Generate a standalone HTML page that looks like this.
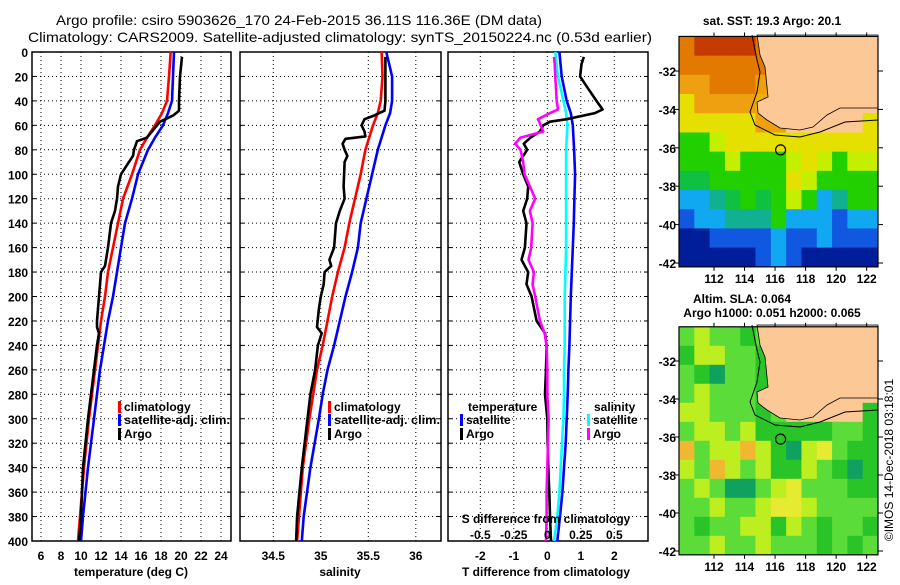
<!DOCTYPE html>
<html><head><meta charset="utf-8"><style>
body{margin:0;background:#fff;}
svg text{font-family:"Liberation Sans",sans-serif;font-weight:bold;fill:#000;}
</style></head><body>
<svg id="c" width="900" height="580" xmlns="http://www.w3.org/2000/svg">
<text x="56" y="25" font-size="14" textLength="486" lengthAdjust="spacingAndGlyphs" style="font-weight:normal">Argo profile: csiro 5903626_170 24-Feb-2015 36.11S 116.36E (DM data)</text>
<text x="28" y="42" font-size="14" textLength="624" lengthAdjust="spacingAndGlyphs" style="font-weight:normal">Climatology: CARS2009. Satellite-adjusted climatology: synTS_20150224.nc (0.53d earlier)</text>
<g id="p"></g>
</svg>
<script>
// ---- data ----
const depths=[0,20,40,50,60,70,80,100,120,140,160,180,200,220,240,260,280,300,340,380,400];
const tClim=[18.97,18.8,18.6,18.1,17.4,16.6,15.9,15.1,14.2,13.7,13.2,12.7,12.4,12.0,11.7,11.4,11.1,10.8,10.3,9.9,9.7];
const tSat=[19.3,19.2,19.1,18.7,18.2,17.4,16.7,15.7,15.1,14.4,14.0,13.6,13.2,12.7,12.3,11.9,11.6,11.3,10.7,10.2,10.0];
const argoDepths=[4,20,40,48,52,57,62,70,73,80,85,95,100,110,120,130,140,160,175,180,200,220,225,230,240,260,280,300,340,380,400];
const tArgo=[20.1,19.9,19.8,19.8,19.2,17.9,17.4,16.6,15.6,15.3,15.2,14.4,14.0,13.7,13.6,13.4,13.0,12.7,12.4,12.0,11.8,11.6,11.6,11.8,11.6,11.3,11.0,10.7,10.2,10.0,9.8];
const sClim=[35.64,35.65,35.63,35.60,35.55,35.51,35.47,35.42,35.36,35.30,35.25,35.18,35.12,35.07,35.02,34.96,34.92,34.88,34.81,34.77,34.75];
const sSat=[35.69,35.75,35.75,35.73,35.68,35.64,35.60,35.54,35.48,35.42,35.39,35.33,35.26,35.20,35.14,35.07,35.02,34.98,34.89,34.82,34.80];
const sArgoDepths=[4,20,40,48,52,55,60,65,69,71,75,80,85,90,110,120,130,140,160,170,175,180,190,200,210,225,230,240,260,280,300,340,380,400];
const sArgo=[35.68,35.68,35.68,35.67,35.56,35.46,35.43,35.46,35.47,35.26,35.23,35.25,35.28,35.25,35.24,35.25,35.20,35.16,35.14,35.09,35.11,35.04,35.03,35.00,34.98,34.96,35.01,34.97,34.94,34.89,34.86,34.80,34.75,34.74];
const dDepths=[0,20,40,50,60,80,100,120,140,160,180,200,220,240,260,280,300,320,340,360,380,400];
const dtSat=[0.36,0.43,0.58,0.70,0.76,0.80,0.83,0.81,0.79,0.76,0.73,0.70,0.68,0.66,0.63,0.61,0.58,0.55,0.50,0.45,0.38,0.30];
const dsSat=[0.06,0.08,0.12,0.14,0.15,0.14,0.14,0.14,0.14,0.14,0.135,0.13,0.13,0.13,0.125,0.125,0.12,0.11,0.10,0.09,0.075,0.05];
const daDepths=[4,10,20,30,40,47,50,55,57,60,65,70,75,80,90,100,110,120,130,140,160,170,180,190,200,220,230,240,260,280,300,320,340,360,380,400];
const dtArgo=[1.09,1.02,0.98,1.22,1.47,1.65,1.42,0.58,0.08,-0.12,-0.22,-0.5,-0.7,-0.6,-0.84,-0.72,-0.57,-0.6,-0.72,-0.62,-0.67,-0.77,-0.57,-0.62,-0.47,-0.32,-0.07,-0.02,-0.04,-0.07,0,0.01,0.03,0.06,0.08,0.11];
const dsArgo=[0.05,0.055,0.06,0.065,0.07,0.08,0.02,-0.07,-0.06,-0.05,-0.03,-0.2,-0.24,-0.2,-0.18,-0.17,-0.13,-0.09,-0.13,-0.11,-0.12,-0.14,-0.1,-0.11,-0.09,-0.055,-0.02,-0.005,0,0,0.01,0.005,0,-0.005,-0.005,-0.01];
const tTicks=[6,8,10,12,14,16,18,20,22,24];
const sTicks=[34.5,35,35.5,36];
const dtTicks=[-2,-1,0,1,2];
const dsTicks=[-0.5,-0.25,0,0.25,0.5];
const depthTicks=[0,20,40,60,80,100,120,140,160,180,200,220,240,260,280,300,320,340,360,380,400];
// SST map grid (lat rows -30.2 -> -42.3, lon cols 110.3 -> 123)
const sstRows=["ORRRROLLLLLLL","OOOOOOLLLLLLL","ooOOOoLLLLLLL","YooooöLLLLLLL","YYYYYooLLLLLY","GGyYYYYYYYYYY","GGGyGGGyYyGyy","ggGGGGGYyGGGG","CCTgGgGyGCTGG","BCCTTTGCCCBCC","DDBBBBCBBCBBB","DDDDDBCBDDDDD"];
const slaRows=["gyggGgLLLLLLL","GyyggGLLLLLLL","gGTggGLLLLLLL","gygggGLLLLLLL","yygggGgLLLLLG","gyygyGGGGGggG","OgyyOyGTyYgGG","ygOygyGGygGTG","gygTTgyYgggGG","ggyggyYYyggggg","gGggyyGygGggG","ggyggygggGgGg"];
const mapTicksLat=[-32,-34,-36,-38,-40,-42];
const mapTicksLon=[112,114,116,118,120,122];

const NS="http://www.w3.org/2000/svg";
const root=document.getElementById('p');
function mk(tag,at,parent){const e=document.createElementNS(NS,tag);for(const k in at)e.setAttribute(k,at[k]);(parent||root).appendChild(e);return e;}
function txt(x,y,s,size,anchor,name){const t=mk('text',{x:x,y:y,'font-size':size,'text-anchor':anchor||'middle'});t.textContent=s;


return t;}
const Y0=52,Y1=541;
const yD=d=>Y0+d*(Y1-Y0)/400;

function panel(x0,x1,xs,ticks,name){
  const g=mk('g',{});
  
  
  depthTicks.forEach(d=>{if(d>0&&d<400)mk('line',{x1:x0,x2:x1,y1:yD(d),y2:yD(d),stroke:'#000','stroke-dasharray':'1,3','stroke-width':1},g);
    mk('line',{x1:x0,x2:x0+4,y1:yD(d),y2:yD(d),stroke:'#000'},g);mk('line',{x1:x1-4,x2:x1,y1:yD(d),y2:yD(d),stroke:'#000'},g);});
  ticks.forEach(v=>{const x=xs(v);mk('line',{x1:x,x2:x,y1:Y0,y2:Y1,stroke:'#000','stroke-dasharray':'1,3'},g);});
  mk('rect',{x:x0,y:Y0,width:x1-x0,height:Y1-Y0,fill:'none',stroke:'#000','stroke-width':1.5},g);
  return g;
}
function line(g,xs,vals,ds,color,name){
  const pts=vals.map((v,i)=>xs(v).toFixed(1)+','+yD(ds[i]).toFixed(1)).join(' ');
  const p=mk('polyline',{points:pts,fill:'none',stroke:color,'stroke-width':2.6,'stroke-linejoin':'round'},g);
  
  
}
depthTicks.forEach(d=>txt(28,yD(d)+5,String(d),12,'end','depth-tick-label'));

const xT=v=>41+(v-6)*10;
const g1=panel(32,231,xT,tTicks,'temperature-panel');
line(g1,xT,tClim,depths,'#f00','temp-climatology-line');
line(g1,xT,tSat,depths,'#00f','temp-satellite-line');
line(g1,xT,tArgo,argoDepths,'#000','temp-argo-line');
tTicks.forEach(v=>txt(xT(v),560,String(v),12,'middle','temp-tick-label'));
txt(131,576,'temperature (deg C)',12,'middle','temp-axis-title');

const xS=v=>273.3+(v-34.5)*95;
const g2=panel(240,441,xS,sTicks,'salinity-panel');
line(g2,xS,sClim,depths,'#f00','sal-climatology-line');
line(g2,xS,sSat,depths,'#00f','sal-satellite-line');
line(g2,xS,sArgo,sArgoDepths,'#000','sal-argo-line');
sTicks.forEach(v=>txt(xS(v),560,String(v),12,'middle','sal-tick-label'));
txt(340,576,'salinity',12,'middle','salinity-axis-title');

const xDT=v=>547.3+v*33.5;
const xDS=v=>547.3+v*134;
const g3=panel(448,648,xDT,dtTicks,'difference-panel');
line(g3,xDT,dtSat,dDepths,'#00f','tdiff-satellite-line');
line(g3,xDS,dsSat,dDepths,'#0ff','sdiff-satellite-line');
line(g3,xDT,dtArgo,daDepths,'#000','tdiff-argo-line');
line(g3,xDS,dsArgo,daDepths,'#f0f','sdiff-argo-line');
dtTicks.forEach(v=>txt(xDT(v),560,String(v),12,'middle','tdiff-tick-label'));
dsTicks.forEach(v=>txt(xDS(v),539,String(v),12,'middle','sdiff-tick-label'));
txt(546,523,'S difference from climatology',12,'middle','sdiff-axis-title');
txt(546,576,'T difference from climatology',12,'middle','tdiff-axis-title');

function leg(x,y,color,label,name,len){const g=mk('g',{});
 
 
 mk('rect',{x:x,y:y-10,width:3,height:12,fill:color},g);const t=txt(x+6,y,label,12,'start','legend-label');
 if(len){t.setAttribute('textLength',len);t.setAttribute('lengthAdjust','spacingAndGlyphs');}
 g.appendChild(t);}
leg(118,411,'#f00','climatology','legend-climatology');
leg(118,424,'#00f','satellite-adj. clim.','legend-satellite',106);
leg(118,438,'#000','Argo','legend-argo');
leg(328,411,'#f00','climatology','legend-climatology-2');
leg(328,424,'#00f','satellite-adj. clim.','legend-satellite-2',106);
leg(328,438,'#000','Argo','legend-argo-2');
txt(468,411,'temperature',12,'start','legend-temperature-header');
leg(460,424,'#00f','satellite','legend-t-satellite');
leg(460,438,'#000','Argo','legend-t-argo');
txt(594,411,'salinity',12,'start','legend-salinity-header');
leg(587,424,'#0ff','satellite','legend-s-satellite');
leg(587,438,'#f0f','Argo','legend-s-argo');

const sstCol={R:'#c43a00',O:'#e27a00',o:'#eea010','ö':'#f0b000',Y:'#e6e000',y:'#c4f000',G:'#22d000',g:'#10c040',T:'#10b090',C:'#10a8f0',B:'#1058e0',D:'#001e9a',L:'#fbc896'};
const slaCol={G:'#28c428',g:'#5cdc38',y:'#bcee20',Y:'#e6ea30',O:'#f0b830',T:'#10a060',L:'#fbc896'};
function map(top,bot,rows,cols,name){
  const g=mk('g',{});
  
  
  const x0=679,x1=878;
  const lonX=l=>714+(l-112)*15.27;
  const latY=l=>top+(-32-l)*(bot-top)/10;
  const boxTop=latY(-30.2), boxBot=latY(-42.2);
  const cw=(x1-x0)/13, ch=(boxBot-boxTop)/12;
  rows.forEach((r,i)=>{for(let j=0;j<13;j++){const c=r[j]||'g';mk('rect',{x:x0+j*cw,y:boxTop+i*ch,width:cw+0.5,height:ch+0.5,fill:cols[c]},g);}});
  const dy=latY(-32)-71;
  const land=[[757,35],[760,55],[765,67],[768,97],[757,102],[758,113],[767,120],[780,128],[800,130],[813,127],[827,115],[840,108],[878,108],[878,35]];
  mk('polygon',{points:land.map(p=>p[0]+','+(p[1]+dy)).join(' '),fill:'#fbc896',stroke:'#000','stroke-width':0.8},g);
  const shelf=[[752,35],[757,60],[760,72],[757,92],[750,112],[755,125],[775,135],[800,137],[820,132],[845,122],[878,120]];
  mk('polyline',{points:shelf.map(p=>p[0]+','+(p[1]+dy)).join(' '),fill:'none',stroke:'#000','stroke-width':1},g);
  mk('circle',{cx:lonX(116.36),cy:latY(-36.11),r:5,fill:'none',stroke:'#000','stroke-width':1.2},g);
  mk('rect',{x:x0,y:boxTop,width:x1-x0,height:boxBot-boxTop,fill:'none',stroke:'#000','stroke-width':1.2},g);
  mapTicksLat.forEach(l=>{const y=latY(l);mk('line',{x1:x0-5,x2:x0,y1:y,y2:y,stroke:'#000'},g);mk('line',{x1:x1,x2:x1+5,y1:y,y2:y,stroke:'#000'},g);g.appendChild(txt(676,y+5,String(l),12,'end','map-lat-label'));});
  mapTicksLon.forEach(l=>{const x=lonX(l);mk('line',{x1:x,x2:x,y1:boxBot,y2:boxBot+4,stroke:'#000'},g);mk('line',{x1:x,x2:x,y1:boxTop-4,y2:boxTop,stroke:'#000'},g);g.appendChild(txt(x,boxBot+16,String(l),12,'middle','map-lon-label'));});
  return g;
}
map(71,263,sstRows,sstCol,'sst-map');
map(361,551,slaRows,slaCol,'sla-map');
txt(772,25,'sat. SST: 19.3 Argo: 20.1',12,'middle','sst-map-title');
txt(742,303,'Altim. SLA: 0.064',12,'middle','sla-map-title');
txt(772,317,'Argo h1000: 0.051 h2000: 0.065',12,'middle','sla-argo-heights');
const cr=txt(0,0,'©IMOS 14-Dec-2018 03:18:01',12,'middle','imos-credit');
cr.setAttribute('transform','translate(893,460) rotate(-90)');
cr.style.fontWeight='normal';
</script>
</body></html>
